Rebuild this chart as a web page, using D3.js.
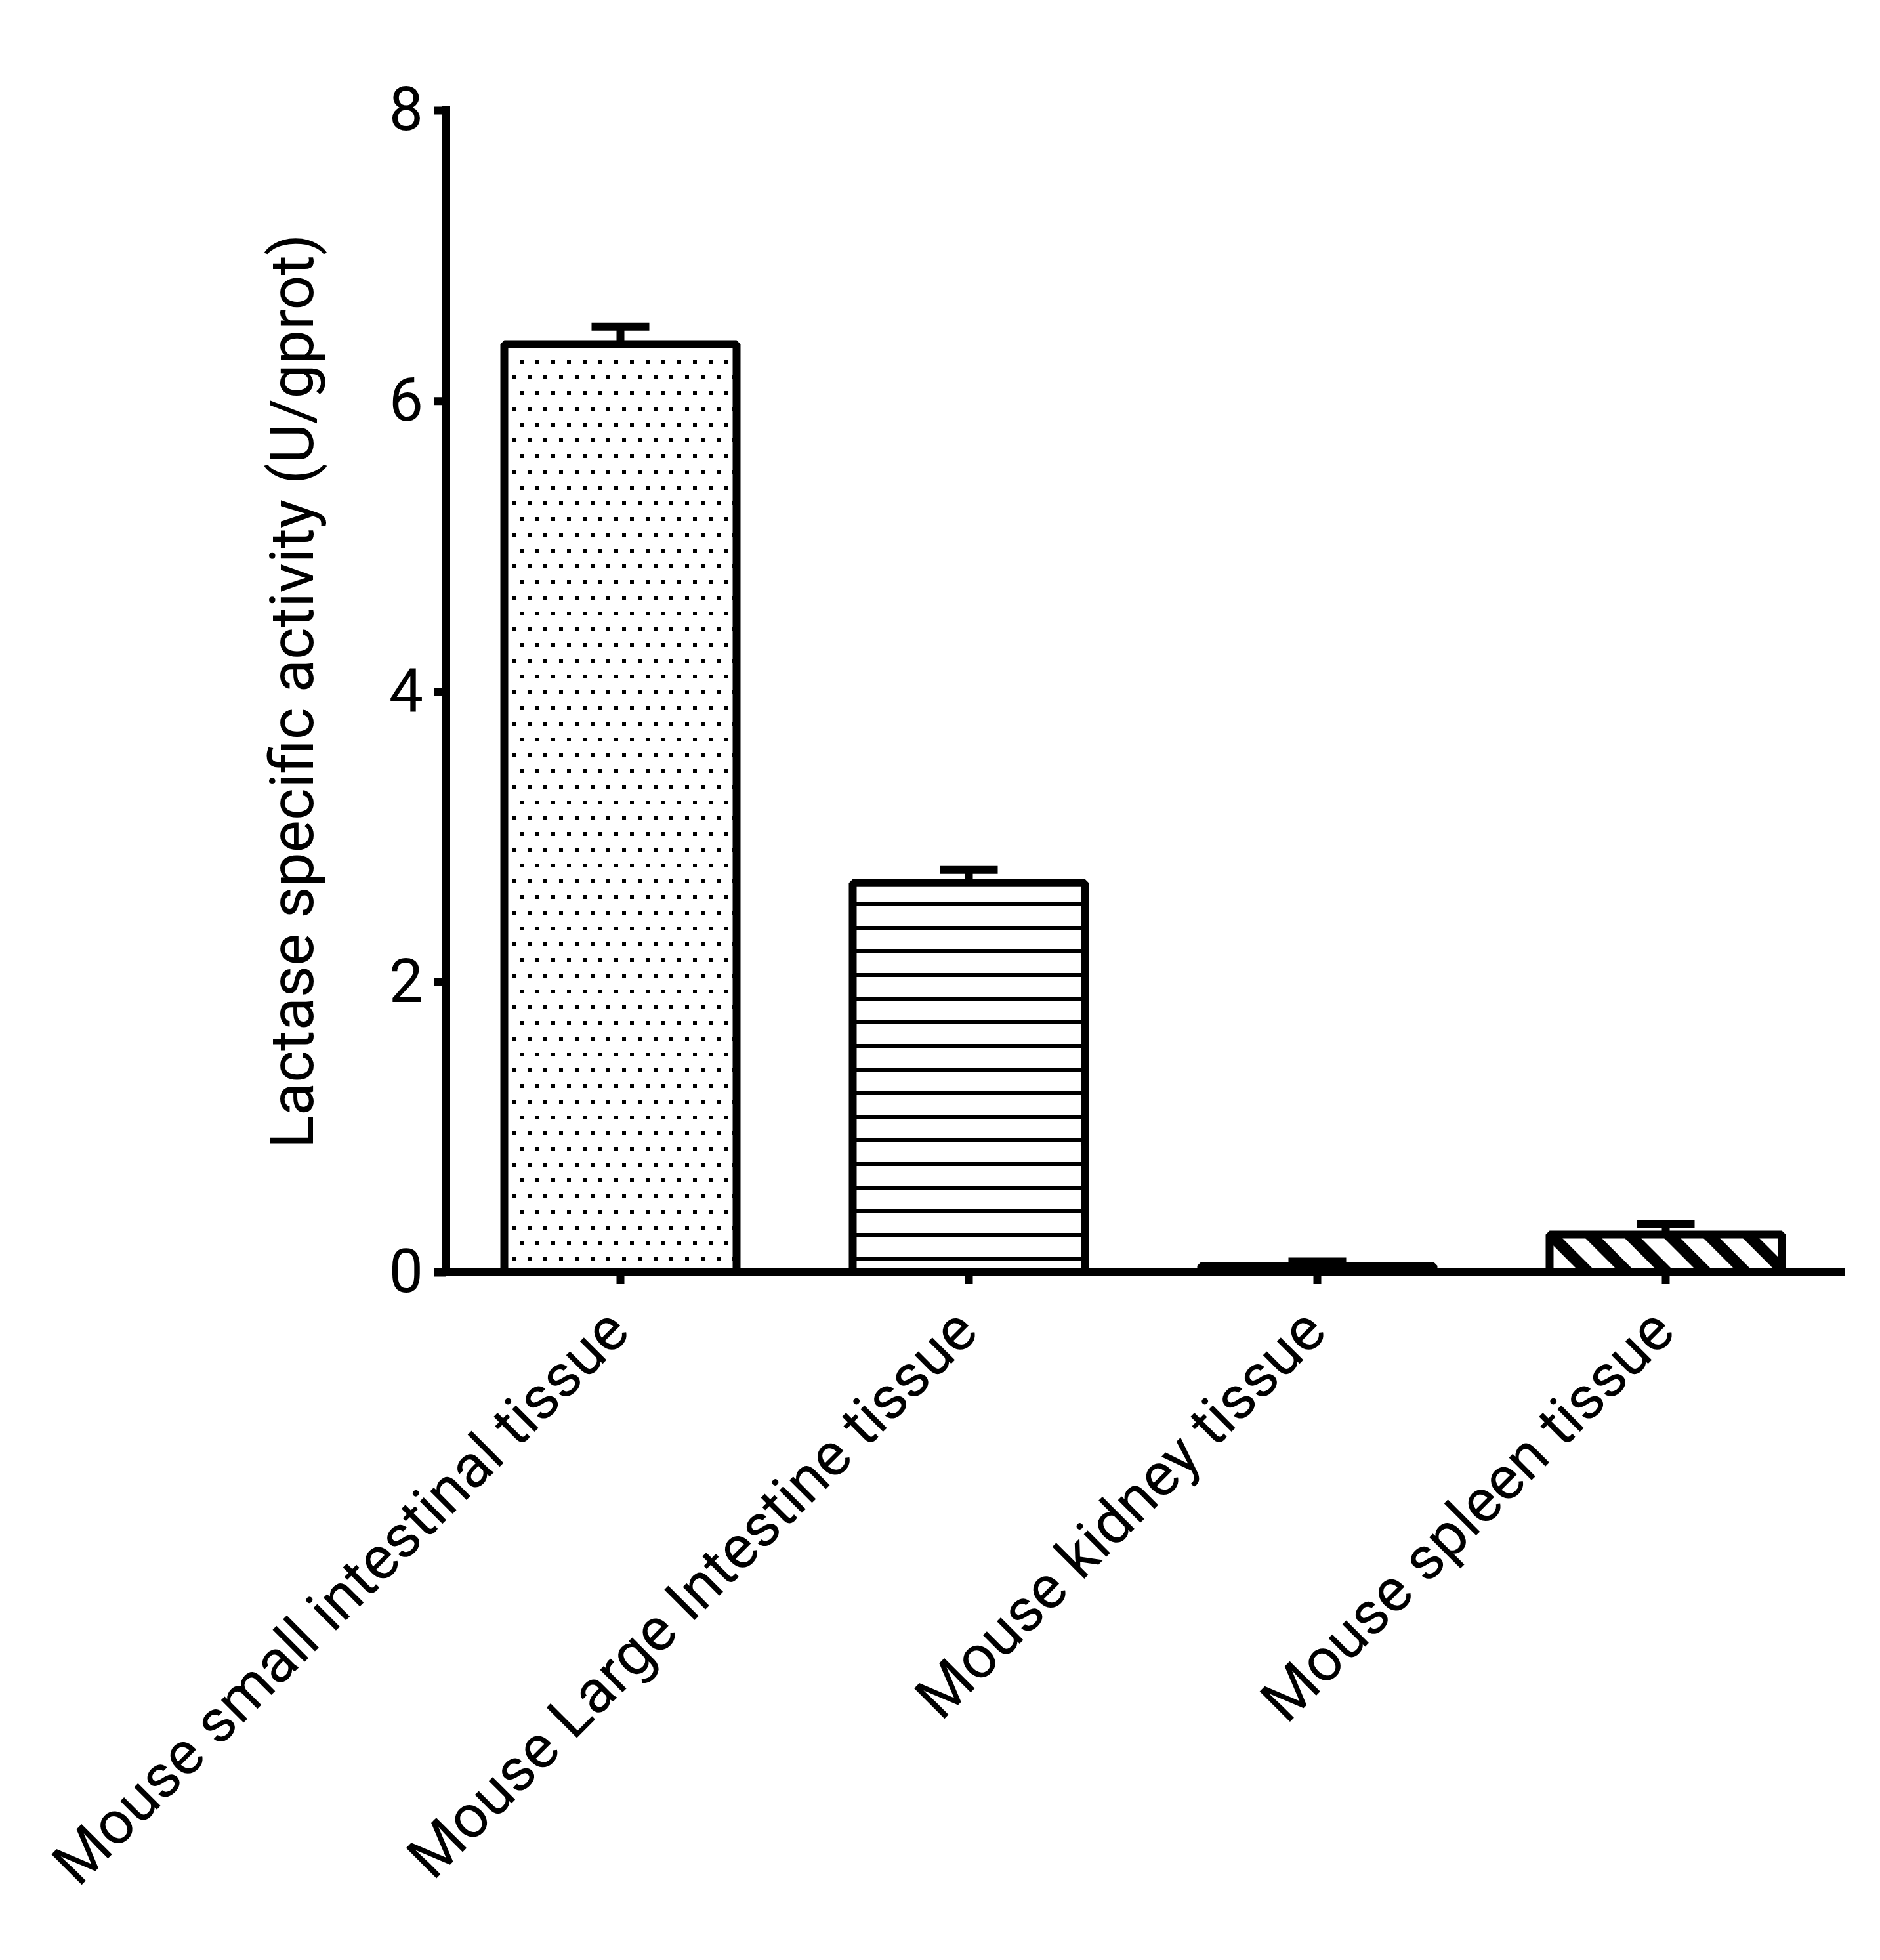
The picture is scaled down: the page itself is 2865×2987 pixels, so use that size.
<!DOCTYPE html>
<html>
<head>
<meta charset="utf-8">
<script src="https://cdn.jsdelivr.net/npm/d3@7"></script>
<style>
  body { margin: 0; background: #fff; }
</style>
</head>
<body>
<script>
// data
const categories = [
  'Mouse small intestinal tissue',
  'Mouse Large Intestine tissue',
  'Mouse kidney tissue',
  'Mouse spleen tissue'
]
const means = [6.39, 2.68, 0.045, 0.26]
const sems = [0.12, 0.09, 0.03, 0.07]
const fills = ['dots', 'hlines', 'solid', 'diag']
const yTicks = [0, 2, 4, 6, 8]
const yLabel = 'Lactase specific activity (U/gprot)'

// layout
const WIDTH = 2865
const HEIGHT = 2987
const X0 = 680
const X1 = 2804
const X_AXIS_END = 2811
const Y_TOP = 168
const Y_BOTTOM = 1939
const STROKE = 12
const TICK = 19
const X_TICK = 18
const CAP = 88
const FONT = 'Roboto, "DejaVu Sans", sans-serif'
const FONT_SIZE = 93
const X_FONT_SIZE = 92

const x = d3.scaleBand()
  .domain(categories)
  .range([X0, X1])
  .paddingInner(1 / 3)
  .paddingOuter(1 / 6)

const y = d3.scaleLinear()
  .domain([0, 8])
  .range([Y_BOTTOM, Y_TOP])

const svg = d3.select('body').append('svg')
  .attr('width', WIDTH)
  .attr('height', HEIGHT)

svg.append('rect')
  .attr('width', WIDTH)
  .attr('height', HEIGHT)
  .attr('fill', 'white')

// fill patterns
const defs = svg.append('defs')

const dots = defs.append('pattern')
  .attr('id', 'dots')
  .attr('patternUnits', 'userSpaceOnUse')
  .attr('x', 792).attr('y', 548)
  .attr('width', 24).attr('height', 48)
dots.append('rect').attr('x', 0).attr('y', 0).attr('width', 6).attr('height', 6)
dots.append('rect').attr('x', 12).attr('y', 24).attr('width', 6).attr('height', 6)

const hlines = defs.append('pattern')
  .attr('id', 'hlines')
  .attr('patternUnits', 'userSpaceOnUse')
  .attr('x', 0).attr('y', 7)
  .attr('width', 36).attr('height', 36)
hlines.append('rect').attr('width', 36).attr('height', 6)

const diag = defs.append('pattern')
  .attr('id', 'diag')
  .attr('patternUnits', 'userSpaceOnUse')
  .attr('patternTransform', 'rotate(45)')
  .attr('x', 0).attr('y', 32.56)
  .attr('width', 20).attr('height', 42.43)
diag.append('rect').attr('width', 20).attr('height', 17.7)

const solid = defs.append('pattern')
  .attr('id', 'solid')
  .attr('patternUnits', 'userSpaceOnUse')
  .attr('width', 10).attr('height', 10)
solid.append('rect').attr('width', 10).attr('height', 10).attr('fill', 'black')

// bars
svg.append('g')
  .selectAll('rect')
  .data(categories)
  .join('rect')
    .attr('x', d => x(d))
    .attr('width', x.bandwidth())
    .attr('y', (d, i) => y(means[i]))
    .attr('height', (d, i) => y(0) - y(means[i]))
    .attr('fill', (d, i) => `url(#${fills[i]})`)
    .attr('stroke', 'black')
    .attr('stroke-width', STROKE)
    .attr('stroke-linejoin', 'bevel')

// error bars (upper)
const err = svg.append('g')
  .attr('stroke', 'black')
  .attr('stroke-width', STROKE)

err.selectAll('.stem')
  .data(categories)
  .join('line')
    .attr('class', 'stem')
    .attr('x1', d => x(d) + x.bandwidth() / 2)
    .attr('x2', d => x(d) + x.bandwidth() / 2)
    .attr('y1', (d, i) => y(means[i]))
    .attr('y2', (d, i) => y(means[i] + sems[i]))

err.selectAll('.cap')
  .data(categories)
  .join('line')
    .attr('class', 'cap')
    .attr('x1', d => x(d) + x.bandwidth() / 2 - CAP / 2)
    .attr('x2', d => x(d) + x.bandwidth() / 2 + CAP / 2)
    .attr('y1', (d, i) => y(means[i] + sems[i]))
    .attr('y2', (d, i) => y(means[i] + sems[i]))

// y axis
const yAxis = svg.append('g')
  .attr('transform', `translate(${X0},0)`)
  .call(d3.axisLeft(y).tickValues(yTicks).tickSize(TICK).tickPadding(16))
yAxis.select('.domain').remove()
yAxis.selectAll('line')
  .attr('stroke', 'black')
  .attr('stroke-width', STROKE)
yAxis.selectAll('text')
  .attr('font-family', FONT)
  .attr('font-size', FONT_SIZE)
  .attr('fill', 'black')

// x axis
const xAxis = svg.append('g')
  .attr('transform', `translate(0,${Y_BOTTOM})`)
  .call(d3.axisBottom(x).tickSize(X_TICK).tickSizeOuter(0))
xAxis.select('.domain').remove()
xAxis.selectAll('line')
  .attr('stroke', 'black')
  .attr('stroke-width', STROKE)
xAxis.selectAll('text')
  .attr('y', null)
  .attr('dy', '0.27em')
  .attr('transform', 'translate(0,77) rotate(-45)')
  .attr('text-anchor', 'end')
  .attr('font-family', FONT)
  .attr('font-size', X_FONT_SIZE)
  .attr('fill', 'black')

// axis lines
svg.append('line')
  .attr('x1', X0).attr('x2', X0)
  .attr('y1', y(8)).attr('y2', y(0))
  .attr('stroke', 'black')
  .attr('stroke-width', STROKE)
  .attr('stroke-linecap', 'square')

svg.append('line')
  .attr('x1', X0 - TICK).attr('x2', X_AXIS_END)
  .attr('y1', y(0)).attr('y2', y(0))
  .attr('stroke', 'black')
  .attr('stroke-width', STROKE)

// y label
svg.append('text')
  .attr('transform', `translate(477,${(y(0) + y(8)) / 2}) rotate(-90)`)
  .attr('text-anchor', 'middle')
  .attr('font-family', FONT)
  .attr('font-size', FONT_SIZE)
  .attr('fill', 'black')
  .text(yLabel)
</script>
</body>
</html>
